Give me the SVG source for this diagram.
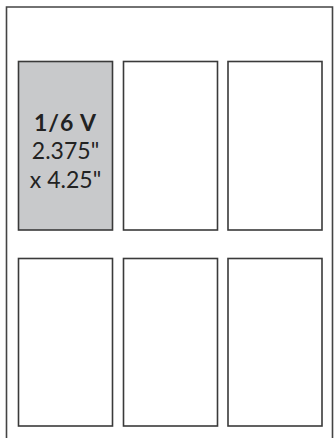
<svg xmlns="http://www.w3.org/2000/svg" width="335" height="438" viewBox="0 0 335 438">
<style>
.box{fill:#fff;stroke:#3a3a3a;stroke-width:1.6}
.sel{fill:#c8c9cb}
.t{font-family:Lato,"Noto Sans","Liberation Sans",sans-serif;font-size:23px;fill:#222;text-anchor:middle}
.b{font-weight:bold;letter-spacing:1px}
</style>
<rect width="335" height="438" fill="#fff"/>
<path d="M6.5 440 V7 H332.5 V440" fill="none" stroke="#444" stroke-width="1.6"/>
<g id="ad1"><rect class="box sel" x="18.5" y="61.5" width="94" height="168.5"/>
<text class="t b" x="65.5" y="131">1/6 V</text>
<text class="t" x="65.5" y="158.5">2.375"</text>
<text class="t" x="65.5" y="187.5">x 4.25"</text></g>
<g id="ad2"><rect class="box" x="123.5" y="61.5" width="94" height="168.5"/></g>
<g id="ad3"><rect class="box" x="228" y="61.5" width="94" height="168.5"/></g>
<g id="ad4"><rect class="box" x="18.5" y="258.5" width="94" height="167.5"/></g>
<g id="ad5"><rect class="box" x="123.5" y="258.5" width="94" height="167.5"/></g>
<g id="ad6"><rect class="box" x="228" y="258.5" width="94" height="167.5"/></g>
<g id="connectors"/>
</svg>
